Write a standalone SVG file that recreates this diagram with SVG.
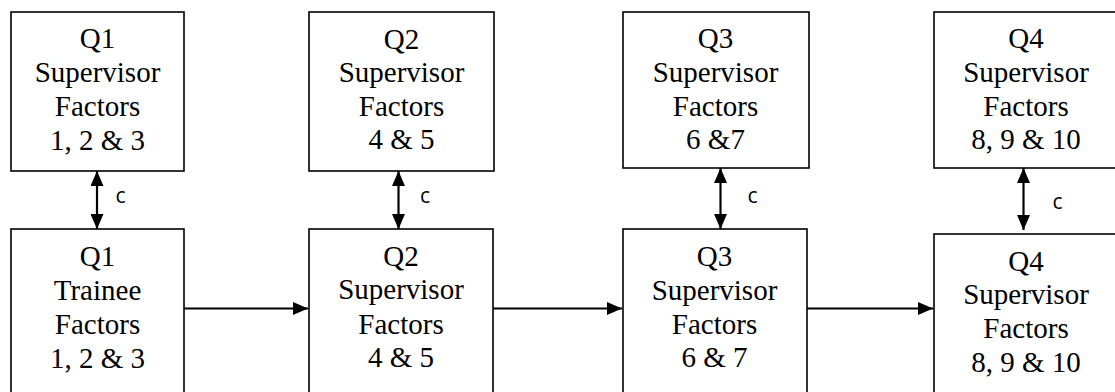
<svg xmlns="http://www.w3.org/2000/svg" width="1115" height="392" viewBox="0 0 1115 392">
  <style>
    .box { fill: #ffffff; stroke: #000000; stroke-width: 1.6; }
    .link { stroke: #000000; stroke-width: 2.2; fill: none; }
  </style>
  <defs>
    <marker id="head" viewBox="0 0 15 13" refX="15" refY="6.5" markerWidth="15" markerHeight="13" markerUnits="userSpaceOnUse" orient="auto-start-reverse">
      <path d="M0,0 L15,6.5 L0,13 Z" fill="#000000"/>
    </marker>
  </defs>
  <rect width="1115" height="392" fill="#ffffff"/>

  <g font-family="Liberation Serif, Times New Roman, DejaVu Serif, serif" font-size="29" text-anchor="middle" fill="#000000">
    <!-- Q1 -->
    <g id="q1-supervisor">
      <rect class="box" x="11" y="12" width="173" height="159"/>
      <text x="97.5" y="48">Q1</text>
      <text x="97.5" y="82">Supervisor</text>
      <text x="97.5" y="116">Factors</text>
      <text x="97.5" y="150">1, 2 &amp; 3</text>
    </g>
    <g id="q1-trainee">
      <rect class="box" x="11" y="229" width="173" height="170"/>
      <text x="97.5" y="266">Q1</text>
      <text x="97.5" y="300">Trainee</text>
      <text x="97.5" y="334">Factors</text>
      <text x="97.5" y="368">1, 2 &amp; 3</text>
    </g>

    <!-- Q2 -->
    <g id="q2-supervisor">
      <rect class="box" x="309" y="12" width="185" height="159"/>
      <text x="401.5" y="49">Q2</text>
      <text x="401.5" y="82">Supervisor</text>
      <text x="401.5" y="116">Factors</text>
      <text x="401.5" y="149">4 &amp; 5</text>
    </g>
    <g id="q2-supervisor-lower">
      <rect class="box" x="309" y="229" width="184" height="170"/>
      <text x="401" y="266">Q2</text>
      <text x="401" y="299">Supervisor</text>
      <text x="401" y="334">Factors</text>
      <text x="401" y="367">4 &amp; 5</text>
    </g>

    <!-- Q3 -->
    <g id="q3-supervisor">
      <rect class="box" x="623" y="12" width="186" height="156"/>
      <text x="715.5" y="48">Q3</text>
      <text x="715.5" y="82">Supervisor</text>
      <text x="715.5" y="116">Factors</text>
      <text x="715.5" y="149">6 &amp;7</text>
    </g>
    <g id="q3-supervisor-lower">
      <rect class="box" x="623" y="229" width="184" height="170"/>
      <text x="714.5" y="266">Q3</text>
      <text x="714.5" y="300">Supervisor</text>
      <text x="714.5" y="334">Factors</text>
      <text x="714.5" y="367">6 &amp; 7</text>
    </g>

    <!-- Q4 -->
    <g id="q4-supervisor">
      <rect class="box" x="934" y="12" width="186" height="156"/>
      <text x="1026" y="48">Q4</text>
      <text x="1026" y="82">Supervisor</text>
      <text x="1026" y="116">Factors</text>
      <text x="1026" y="149">8, 9 &amp; 10</text>
    </g>
    <g id="q4-supervisor-lower">
      <rect class="box" x="934" y="234" width="186" height="165"/>
      <text x="1026" y="271">Q4</text>
      <text x="1026" y="304">Supervisor</text>
      <text x="1026" y="338">Factors</text>
      <text x="1026" y="372">8, 9 &amp; 10</text>
    </g>
  </g>

  <!-- connectors -->
  <g id="connectors">
    <line class="link" x1="97" y1="171" x2="97" y2="229" marker-start="url(#head)" marker-end="url(#head)"/>
    <line class="link" x1="398.5" y1="171" x2="398.5" y2="229" marker-start="url(#head)" marker-end="url(#head)"/>
    <line class="link" x1="720.5" y1="168" x2="720.5" y2="229" marker-start="url(#head)" marker-end="url(#head)"/>
    <line class="link" x1="1023.5" y1="168" x2="1023.5" y2="230" marker-start="url(#head)" marker-end="url(#head)"/>
    <g font-family="Open Sans, Liberation Sans, sans-serif" font-size="21" fill="#000000">
      <text x="115.5" y="203">c</text>
      <text x="420" y="203">c</text>
      <text x="747.5" y="203">c</text>
      <text x="1052.5" y="209">c</text>
    </g>
    <line class="link" x1="184" y1="308.5" x2="308" y2="308.5" marker-end="url(#head)"/>
    <line class="link" x1="493" y1="308.5" x2="622" y2="308.5" marker-end="url(#head)"/>
    <line class="link" x1="807" y1="308.5" x2="933" y2="308.5" marker-end="url(#head)"/>
  </g>
</svg>
